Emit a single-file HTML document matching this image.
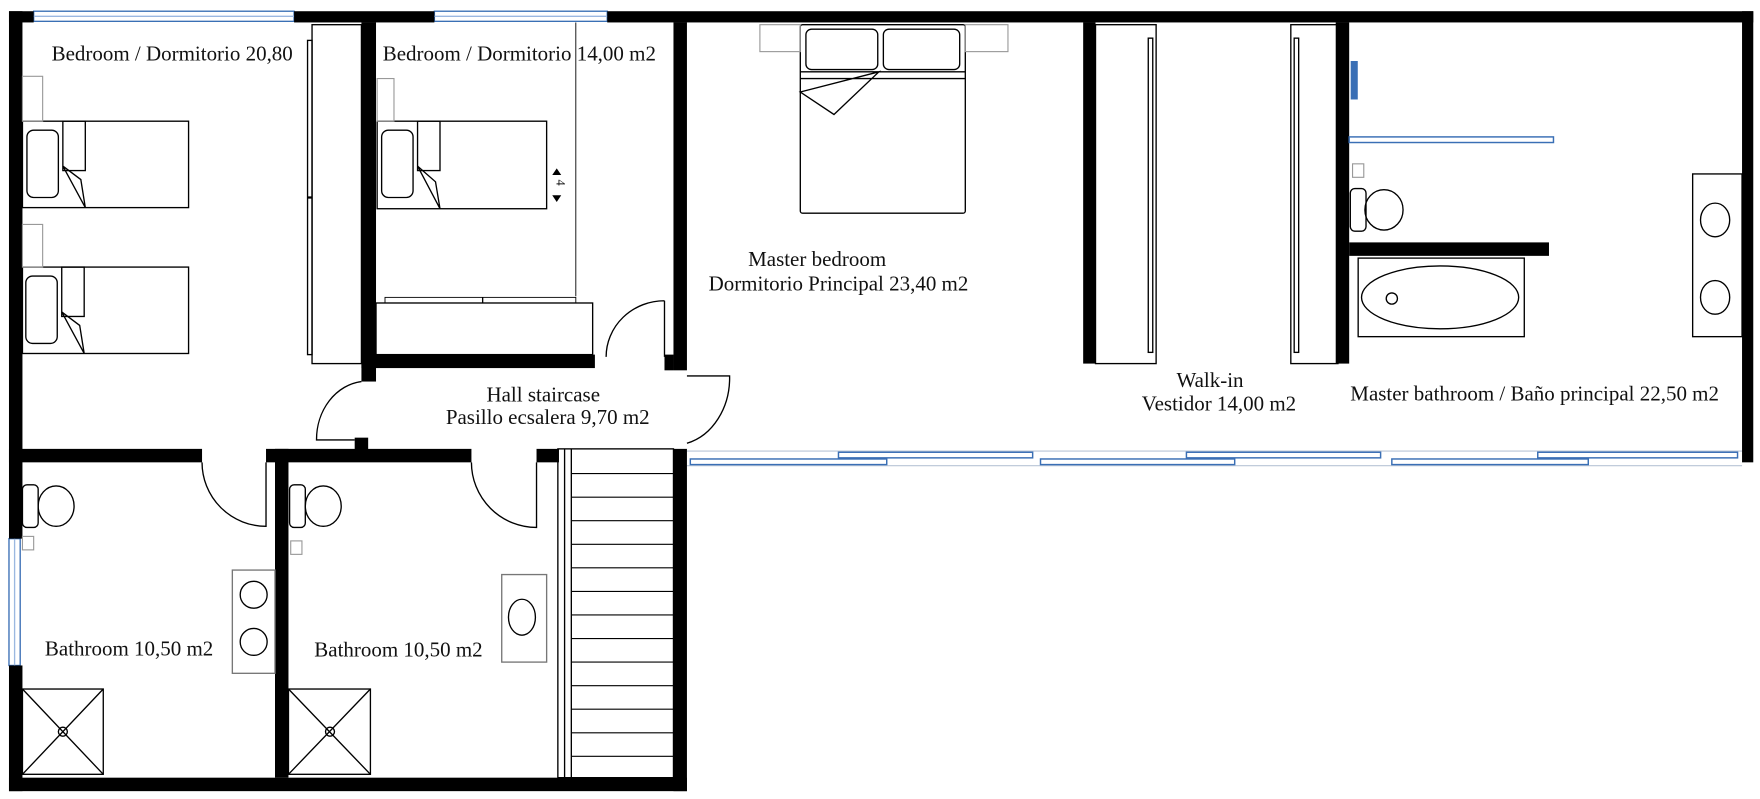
<!DOCTYPE html>
<html><head><meta charset="utf-8"><style>
html,body{margin:0;padding:0;background:#fff;}
svg{display:block;}
text{font-family:"Liberation Serif",serif;font-size:18.7px;fill:#111;}
</style></head><body>
<svg width="1760" height="799" viewBox="0 0 1568 712" preserveAspectRatio="none" xmlns="http://www.w3.org/2000/svg">
<rect width="1568" height="712" fill="#fff"/>
<g fill="#fff" stroke="#3a6fb5" stroke-width="1.2">
<rect x="30" y="10" width="232" height="9"/><line x1="30" y1="14.5" x2="262" y2="14.5" stroke="#9bb8e0"/>
<rect x="387" y="10" width="154" height="9"/><line x1="387" y1="14.5" x2="541" y2="14.5" stroke="#9bb8e0"/>
<rect x="8" y="480" width="10" height="113"/><line x1="13" y1="480" x2="13" y2="593" stroke="#9bb8e0"/>
</g>
<g fill="none" stroke="#b8c4d6" stroke-width="1"><line x1="612" y1="402" x2="1552" y2="402"/><line x1="612" y1="415" x2="1552" y2="415"/></g>
<g fill="#fff" stroke="#3a6fb5" stroke-width="1.3">
<rect x="747" y="403" width="173" height="5"/><rect x="1057" y="403" width="173" height="5"/><rect x="1370" y="403" width="178" height="5"/>
<rect x="615" y="409" width="175" height="5"/><rect x="927" y="409" width="173" height="5"/><rect x="1240" y="409" width="175" height="5"/>
</g>
<g fill="#000">
<rect x="8" y="10" width="22" height="10"/><rect x="262" y="10" width="125" height="10"/><rect x="541" y="10" width="1021" height="10"/>
<rect x="8" y="10" width="12" height="470"/><rect x="8" y="593" width="12" height="112"/>
<rect x="1552" y="10" width="10" height="402"/>
<rect x="8" y="693" width="604" height="12"/>
<rect x="600" y="20" width="12" height="310"/><rect x="600" y="400" width="12" height="305"/>
<rect x="322" y="20" width="13" height="320"/>
<rect x="322" y="316" width="208" height="12"/><rect x="592" y="316" width="8" height="14"/>
<rect x="8" y="400" width="172" height="12"/><rect x="237" y="400" width="183" height="12"/><rect x="478" y="400" width="20" height="12"/>
<rect x="316" y="390" width="12" height="14"/>
<rect x="245" y="400" width="12" height="293"/>
<rect x="965" y="20" width="11" height="304"/><rect x="1190" y="20" width="12" height="304"/>
<rect x="1202" y="216" width="178" height="12"/>
</g>
<g fill="none" stroke="#000" stroke-width="1.2">
<path d="M180 412 A57 57 0 0 0 237 469 L237 412"/>
<path d="M420 412 A58 58 0 0 0 478 470 L478 412"/>
<path d="M322 340 A45 52 0 0 0 282 392 L316 392"/>
<path d="M592 268 L592 318 M592 268 A52 50 0 0 0 540 318"/>
<path d="M612 335 L650 335 A50 60 0 0 1 612 395"/>
<rect x="278" y="22" width="44" height="302"/><rect x="274" y="36" width="4" height="280"/><line x1="274" y1="176" x2="278" y2="176" stroke-width="2"/>
<rect x="20" y="108" width="148" height="77"/><rect x="24" y="116" width="28" height="60" rx="6"/><rect x="56" y="108" width="20" height="44"/><path d="M56 148 L72 160 L76 185 Z"/>
<rect x="20" y="238" width="148" height="77"/><rect x="23" y="246" width="28" height="60" rx="6"/><rect x="55" y="238" width="20" height="44"/><path d="M55 278 L71 290 L75 315 Z"/>
<rect x="336" y="108" width="151" height="78"/><rect x="340" y="116" width="28" height="60" rx="6"/><rect x="372" y="108" width="20" height="44"/><path d="M372 148 L388 162 L392 186 Z"/>
<line x1="513" y1="20" x2="513" y2="264" stroke-width="0.8"/>
<rect x="335" y="270" width="193" height="46"/><rect x="343" y="265" width="170" height="5" stroke-width="0.8"/><line x1="430" y1="265" x2="430" y2="270"/>
<rect x="713" y="22" width="147" height="168" rx="2"/><rect x="718" y="26" width="64" height="36" rx="5"/><rect x="787" y="26" width="68" height="36" rx="5"/>
<path d="M713 64 L860 64 M713 70 L860 70 M783 64 L713 82 L743 102 Z"/>
<rect x="976" y="22" width="54" height="302"/><rect x="1023" y="34" width="4" height="280"/>
<rect x="1150" y="22" width="42" height="302"/><rect x="1153" y="34" width="4" height="280"/>
<rect x="207" y="508" width="38" height="92" stroke="#777"/><circle cx="226" cy="530" r="12"/><circle cx="226" cy="572" r="12"/>
<rect x="447" y="512" width="40" height="78" stroke="#777"/><ellipse cx="465" cy="550" rx="12" ry="16"/>
<rect x="20" y="614" width="72" height="76"/><path d="M20 614 L92 690 M92 614 L20 690"/><circle cx="56" cy="652" r="4"/>
<rect x="257" y="614" width="73" height="76"/><path d="M257 614 L330 690 M330 614 L257 690"/><circle cx="294" cy="652" r="4"/>
<rect x="20" y="432" width="14" height="38" rx="4"/><ellipse cx="50" cy="451" rx="16" ry="18"/>
<rect x="258" y="432" width="14" height="38" rx="4"/><ellipse cx="288" cy="451" rx="16" ry="18"/>
<rect x="1203" y="168" width="14" height="38" rx="4"/><ellipse cx="1233" cy="187" rx="17" ry="18"/>
<rect x="1210" y="230" width="148" height="70"/><ellipse cx="1283" cy="265" rx="70" ry="28"/><circle cx="1240" cy="266" r="5"/>
<rect x="1508" y="155" width="44" height="145"/><ellipse cx="1528" cy="196" rx="13" ry="15"/><ellipse cx="1528" cy="265" rx="13" ry="15"/>
<rect x="497" y="400" width="103" height="293"/><line x1="503" y1="400" x2="503" y2="693"/><line x1="509" y1="400" x2="509" y2="693"/>
</g>
<g stroke="#000" stroke-width="1">
<line x1="509" y1="422" x2="600" y2="422"/><line x1="509" y1="443" x2="600" y2="443"/><line x1="509" y1="464" x2="600" y2="464"/><line x1="509" y1="485" x2="600" y2="485"/><line x1="509" y1="506" x2="600" y2="506"/><line x1="509" y1="527" x2="600" y2="527"/><line x1="509" y1="548" x2="600" y2="548"/><line x1="509" y1="569" x2="600" y2="569"/><line x1="509" y1="590" x2="600" y2="590"/><line x1="509" y1="611" x2="600" y2="611"/><line x1="509" y1="632" x2="600" y2="632"/><line x1="509" y1="653" x2="600" y2="653"/><line x1="509" y1="674" x2="600" y2="674"/>
</g>
<g fill="none" stroke="#999" stroke-width="1">
<rect x="20" y="68" width="18" height="40"/><rect x="20" y="200" width="18" height="38"/><rect x="336" y="70" width="15" height="38"/>
<rect x="677" y="22" width="36" height="24"/><rect x="860" y="22" width="38" height="24"/>
<rect x="20" y="478" width="10" height="12"/><rect x="259" y="482" width="10" height="12"/><rect x="1205" y="146" width="10" height="12"/>
</g>
<g fill="#fff" stroke="#3a6fb5" stroke-width="1.3">
<rect x="1202" y="122" width="182" height="5"/><rect x="1204" y="55" width="5" height="33" fill="#3a6fb5"/>
</g>
<path d="M496 150 L500 156 L492 156 Z M496 180 L500 174 L492 174 Z" fill="#000"/>
<text x="491" y="165" style="font-size:11px" transform="rotate(90 496 165)">4</text>
<text x="46" y="54">Bedroom / Dormitorio 20,80</text>
<text x="341" y="54">Bedroom / Dormitorio 14,00 m2</text>
<text x="728" y="237" text-anchor="middle">Master bedroom</text>
<text x="747" y="259" text-anchor="middle">Dormitorio Principal 23,40 m2</text>
<text x="484" y="358" text-anchor="middle">Hall staircase</text>
<text x="488" y="378" text-anchor="middle">Pasillo ecsalera 9,70 m2</text>
<text x="1078" y="345" text-anchor="middle">Walk-in</text>
<text x="1086" y="366" text-anchor="middle">Vestidor 14,00 m2</text>
<text x="1203" y="357">Master bathroom / Baño principal 22,50 m2</text>
<text x="40" y="584">Bathroom 10,50 m2</text>
<text x="280" y="585">Bathroom 10,50 m2</text>
</svg>
</body></html>
